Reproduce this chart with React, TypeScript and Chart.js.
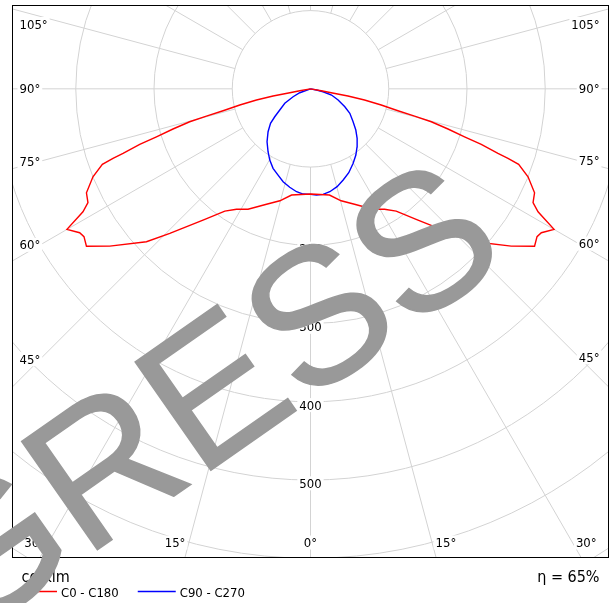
import React, { useEffect, useRef } from "react";
import { Chart, registerables } from "chart.js";

Chart.register(...registerables);

// Gamma angles (degrees from nadir) and luminous intensities (cd/klm)
const c0Gamma = [0, 10.1, 15.3, 20.85, 27.4, 31.55, 35, 39.3, 42.9, 44.2, 47, 51.9, 54.9, 56.85, 58.05, 60, 61.6, 62.9, 65.1, 67.98, 70.05, 70.6, 71, 72, 72.7, 73.7, 74.75, 75.3, 75.9, 77.1, 78.3, 79.1, 79.3, 80, 80.5, 90];
const c0I = [134.5, 138, 148.4, 158, 173.5, 180.8, 190.9, 216.9, 245.4, 257.9, 286.7, 326, 350, 345.8, 347.7, 359.4, 330.6, 319.5, 315.7, 299.9, 283, 267.6, 253.4, 229.5, 206.2, 183.1, 160, 137.5, 115.2, 92.7, 70.5, 48.7, 26.9, 13.9, 0, 0];
const c180Gamma = [0, 10.1, 15.3, 20.85, 27.4, 31.55, 35, 39.3, 42.9, 44.2, 47, 51.9, 54.9, 56.85, 58.05, 60, 61.6, 62.9, 65.1, 67.98, 70.05, 70.6, 71, 72, 72.7, 73.7, 74.75, 75.3, 75.9, 77.1, 78.3, 79.1, 79.3, 80, 80.5, 90];
const c180I = [134.5, 138, 148.4, 158, 173.5, 180.8, 190.9, 216.9, 245.4, 257.9, 286.7, 326, 350, 345.8, 347.7, 359.4, 330.6, 319.5, 315.7, 299.9, 283, 267.6, 253.4, 229.5, 206.2, 183.1, 160, 137.5, 115.2, 92.7, 70.5, 48.7, 26.9, 13.9, 0, 0];
const c90Gamma = [0, 3.2, 6.8, 10.6, 15.2, 19.7, 24.5, 29.8, 34.4, 38.8, 43.3, 47.7, 52.3, 58.1, 62.4, 67.9, 73.6, 77, 78.7, 82, 90];
const c90I = [135, 136, 135.9, 133.9, 129.7, 123.9, 117.9, 109.7, 102.6, 95, 86.9, 78.3, 68.8, 59.2, 49.5, 38.1, 28, 16.5, 7.8, 0, 0];
const c270Gamma = [0, 4, 7.7, 11.9, 16.4, 20.6, 25.2, 29.75, 34, 39.4, 44.7, 49.2, 52, 55.4, 60.6, 65.6, 70, 80, 90];
const c270I = [135, 134.9, 132.8, 128.7, 123.9, 117.8, 112.4, 104.9, 97, 87.5, 77.1, 67.5, 58, 47.7, 37.7, 24.4, 14.6, 0, 0];

const seriesNames = ["C0 - C180", "C90 - C270"];
const seriesColors = ["#ff0000", "#0000ff"];
const ringValues = [100, 200, 300, 400, 500, 600, 700];
const ringLabels = [200, 300, 400, 500];
const spokeAngles = [0, 15, 30, 45, 60, 75, 90, 105, 120, 135, 150, 165, 180, 195, 210, 225, 240, 255, 270, 285, 300, 315, 330, 345];
const angleLabels = [0, 15, 30, 45, 60, 75, 90, 105];
const unitLabel = "cd/klm";
const efficiencyLabel = "\u03B7 = 65%";
const watermarkText = "GRESS";

const LABEL_FONT = "13px 'DejaVu Sans Condensed', 'Liberation Sans', sans-serif";
const BIG_FONT = "16px 'DejaVu Sans Condensed', 'Liberation Sans', sans-serif";

function half(gammas: number[], vals: number[], side: number) {
  return gammas.map((g, i) => {
    const t = (g * Math.PI) / 180;
    return { x: side * vals[i] * Math.sin(t), y: -vals[i] * Math.cos(t) };
  });
}

function curve(lg: number[], li: number[], rg: number[], ri: number[]) {
  return [...half(lg, li, -1).reverse(), ...half(rg, ri, 1)];
}

const polarPlugin = {
  id: "polarGrid",
  beforeDatasetsDraw(chart: any) {
    const { ctx, chartArea: a, scales } = chart;
    const sx = scales.x, sy = scales.y;
    const cx = sx.getPixelForValue(0), cy = sy.getPixelForValue(0);
    const rad = (v: number) => sx.getPixelForValue(v) - cx;
    ctx.save();
    ctx.beginPath();
    ctx.rect(a.left, a.top, a.right - a.left, a.bottom - a.top);
    ctx.clip();
    ctx.strokeStyle = "#d3d3d3";
    ctx.lineWidth = 1;
    ringValues.forEach((v) => {
      ctx.beginPath();
      ctx.arc(cx, cy, rad(v), 0, Math.PI * 2);
      ctx.stroke();
    });
    const r0 = rad(ringValues[0]);
    const far = rad(ringValues[ringValues.length - 1]) * 2;
    spokeAngles.forEach((g) => {
      const t = (g * Math.PI) / 180;
      const dx = Math.sin(t), dy = Math.cos(t);
      ctx.beginPath();
      ctx.moveTo(cx + r0 * dx, cy + r0 * dy);
      ctx.lineTo(cx + far * dx, cy + far * dy);
      ctx.stroke();
    });

    ctx.font = LABEL_FONT;
    ctx.textBaseline = "alphabetic";
    ctx.textAlign = "left";
    const put = (txt: string, x0: number, yc: number, w: number) => {
      ctx.fillStyle = "#ffffff";
      ctx.fillRect(x0 - 2, yc - 7, w + 4, 14);
      ctx.fillStyle = "#000000";
      ctx.fillText(txt, x0, yc + 4.6);
    };
    ringLabels.forEach((v) => {
      const txt = String(v);
      const w = ctx.measureText(txt).width;
      put(txt, cx - w / 2, cy + rad(v) + 3.3, w);
    });
    const corner = (Math.atan2(cx - a.left, a.bottom - cy) * 180) / Math.PI;
    angleLabels.forEach((g) => {
      const txt = g + "\u00B0";
      const w = ctx.measureText(txt).width;
      const t = (g * Math.PI) / 180;
      const sides = g === 0 ? [0] : [-1, 1];
      sides.forEach((s) => {
        let x0 = 0, yc = 0;
        if (g < corner) {
          yc = a.bottom - 15.5;
          const xs = cx + s * (yc - cy) * Math.tan(t);
          if (s === 0) x0 = xs - w / 2;
          else if (s < 0) x0 = Math.max(a.left + 10, xs - 3.5 - w);
          else x0 = Math.min(a.right - 9.5 - w, xs + 3.5);
        } else {
          if (s < 0) {
            x0 = a.left + 7.5;
            yc = cy + (cx - (x0 + w)) / Math.tan(t);
          } else {
            x0 = a.right - 9.5 - w;
            yc = cy + (x0 - cx) / Math.tan(t);
          }
          yc = Math.max(yc, a.top + 19);
        }
        put(txt, x0, yc, w);
      });
    });
    ctx.restore();
  },
  afterDraw(chart: any) {
    const { ctx, chartArea: a } = chart;
    ctx.save();
    ctx.strokeStyle = "#000000";
    ctx.lineWidth = 1;
    ctx.strokeRect(a.left + 0.5, a.top + 0.5, a.right - a.left - 1, a.bottom - a.top - 1);

    ctx.fillStyle = "#000000";
    ctx.textBaseline = "alphabetic";
    ctx.font = BIG_FONT;
    ctx.textAlign = "left";
    ctx.fillText(unitLabel, a.left + 9.5, a.bottom + 24);
    ctx.textAlign = "right";
    ctx.fillText(efficiencyLabel, a.right - 9.5, a.bottom + 23.5);

    ctx.font = LABEL_FONT;
    ctx.textAlign = "left";
    let lx = a.left + 7;
    const ly = a.bottom + 33.5;
    chart.data.datasets.forEach((ds: any) => {
      ctx.strokeStyle = ds.borderColor;
      ctx.lineWidth = 1.5;
      ctx.beginPath();
      ctx.moveTo(lx, ly);
      ctx.lineTo(lx + 38, ly);
      ctx.stroke();
      ctx.fillStyle = "#000000";
      ctx.fillText(ds.label, lx + 42, ly + 5.5);
      lx += 42 + ctx.measureText(ds.label).width + 19;
    });

    ctx.translate(-37.9, 644.4);
    ctx.rotate((-35 * Math.PI) / 180);
    ctx.font = "192px 'Liberation Sans', Arial, sans-serif";
    ctx.fillStyle = "#999999";
    ctx.strokeStyle = "#999999";
    ctx.lineWidth = 1.5;
    ctx.textAlign = "left";
    ctx.fillText(watermarkText, 0, 0);
    ctx.strokeText(watermarkText, 0, 0);
    ctx.restore();
  },
};

export default function App() {
  const ref = useRef<HTMLCanvasElement | null>(null);
  useEffect(() => {
    if (!ref.current) return;
    const chart = new Chart(ref.current, {
      type: "scatter",
      data: {
        datasets: [
          {
            label: seriesNames[0],
            data: curve(c180Gamma, c180I, c0Gamma, c0I),
            showLine: true,
            borderColor: seriesColors[0],
            backgroundColor: seriesColors[0],
            borderWidth: 1.4,
            pointRadius: 0,
            tension: 0,
            fill: false,
          },
          {
            label: seriesNames[1],
            data: curve(c270Gamma, c270I, c90Gamma, c90I),
            showLine: true,
            borderColor: seriesColors[1],
            backgroundColor: seriesColors[1],
            borderWidth: 1.4,
            pointRadius: 0,
            tension: 0,
            fill: false,
          },
        ],
      },
      options: {
        responsive: false,
        animation: false,
        devicePixelRatio: 1,
        events: [],
        layout: { padding: { left: 12, top: 5, right: 6, bottom: 45 } },
        scales: {
          x: { type: "linear", min: -381.5, max: 381.5, display: false },
          y: { type: "linear", min: -600, max: 107.2, display: false },
        },
        plugins: { legend: { display: false }, tooltip: { enabled: false } },
      },
      plugins: [polarPlugin],
    } as any);
    return () => chart.destroy();
  }, []);
  return (
    <div style={{ position: "absolute", left: 0, top: 0, width: 615, height: 603, background: "#ffffff" }}>
      <canvas ref={ref} width={615} height={603} style={{ display: "block" }} />
    </div>
  );
}
